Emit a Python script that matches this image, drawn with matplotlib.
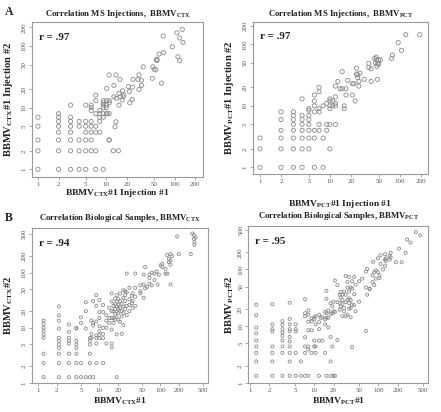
import matplotlib
matplotlib.use("Agg")
import matplotlib.pyplot as plt
from matplotlib.ticker import FixedLocator, NullLocator, FixedFormatter

plt.rcParams['font.family'] = ['Liberation Serif', 'DejaVu Serif']
plt.rcParams['mathtext.fontset'] = 'custom'
plt.rcParams['mathtext.rm'] = 'Liberation Serif:bold'
plt.rcParams['mathtext.bf'] = 'Liberation Serif:bold'
plt.rcParams['mathtext.it'] = 'Liberation Serif:bold'

# ---------------- data ----------------
# Panel A left: MS injections, CTX
a1_x = [1,1,1,1,1,
        2,2,2,2,2,2,2,2,
        3,3,3,3,3,3,3,3,
        4,4,4,4,4,
        5,5,5,5,5,5,5,
        6,6,6,6,6,6,6,6,
        7,7,7,7,7,7,7,
        8,8,8,8,8,
        9,9,9,9,9,9,9,
        10,10,10,10,
        11,11,11,11,11,
        10.1,13.8,15.8,12.9,12.9,14,15.3,15.3,16,17.3,17.6,18,17,21,21.6,22,24,23.9,24.6,
        29,30,30,32.6,32.6,34.6,47,48,50,52.7,54,55,55,59,64,69,68,92,108,118,129,132,111,118,
        13.8,13.4,12.6,15,11,10.3]
a1_y = [7,5,3,2,1,
        8,7,6,5,4,3,2,1,
        11,7,6,5,4,3,2,1,
        6,5,3,2,1,
        11,6,5,4,3,2,1,
        11,10,9,6,5,4,3,2,
        16,13,8,5,4,2,1,
        9,8,7,6,4,
        13,12,11,10,8,7,1,
        13,11,10,8,
        34,13,12,8,3,
        20.6,34,28.8,23,15,14.2,17,11,15,18.8,15,16,13.3,22,18.2,12,21.5,13.6,28.8,
        28.8,34,19.8,28,23,46,30,46,42,41,60,61,58,74,25,78,145,97,164,135,186,114,67,58,
        5.9,4.9,2,2,3,8]

# Panel A right: MS injections, PCT
a2_x = [1,1,1,
        2,2,2,2,2,2,
        3,3,3,3,3,3,3,3,
        4,4,4,4,4,4,4,4,
        5,5,5,5,5,5,5,5,
        6,6,6,6,6,6,6,
        7,7,7,7,7,7,
        8,8,8,
        9,9,9,
        10,10,10,10,10,10,
        11,11,
        12,12,12,12,12,
        13,14,15,17,15,16,16,17,18,21,21,22,23,24,24,25,25,26,26,27,31,36,36,39,39,
        44,45,46,47,47,48,48,50,50,53,76,79,95,106,122,193]
a2_y = [3,2,1,
        8,6,4,3,2,1,
        8,7,6,5,4,3,2,1,
        13,7,6,5,4,3,2,1,
        9,8.5,7,6,5,4,3,2,
        15,12,10,8,4,3,1,
        20,17,9,8,5,4,
        10,3,1,
        11,5,4,
        13,12,10,9,5,2,
        12,10,
        21,14,11,10,5,
        25,19,19,19,36,10,9,15,26,23,15,23,12,41,33,32,29,25,21,34,27,49,42,40,25,
        59,50,62,56,44,27,48,48,56,56,59,67,107,80,144,144]

# Panel B left: biological samples, CTX
b1_x = [1.22]*9 + [2.17]*11 + [3.17]*8 + [4.2]*8 + [5]*4 + [6]*4 + [7]*6 + [7.4]*3 + [7.9]*4 + \
       [8.9]*7 + [10]*7 + [11.5]*6 + [13]*4 + [14.5]*3 + [15.9]*7 + [17]*4 + [18]*5 + [19.2]*7 + \
       [20.4]*5 + [21.8]*4 + [23.2]*4 + [24.7]*5 + [26.4]*4 + [28]*4 + [31]*4 + [34]*2 + [35]*3 + \
       [38.6]*4 + [47]*3 + [53]*3 + [56]*2 + [60] + [66]*3 + [72]*2 + [80]*2 + [86] + [90] + [94] + \
       [100] + [107]*2 + [121]*2 + [129]*2 + [137]*2 + [146]*4 + [155] + [188] + [200] + [313] + \
       [332] + [354]*2 + [376] + [360]*2
b1_y = [13.5,11.8,10,8.9,7.6,6.6,3.4,2.3,1.28,
        24.4,16.8,13.5,9.7,6.6,5.8,5,4.3,3.4,2.3,1.28,
        11.5,8.5,6.6,5.8,5.2,3.4,2.3,1.28,
        10,9.7,5.8,5,4.3,3.4,2.3,1.28,
        15.5,12.3,1.28,2.3,
        29,20,9.7,1.28,
        6.5,5.8,5,3.4,2.3,1.28,
        13.5,7.8,6.6,
        30.6,12.3,11,1.28,
        39,25,13,7.3,6.5,5.2,2.3,
        32,19.3,15,10.7,8.7,7.4,6.5,
        26,19.3,10,7.8,6.5,2.3,
        17,13.5,10,5.2,
        23,15,12.3,
        42,30,20,15,9.3,5.2,4.4,
        25,19.8,15,12.3,
        34,27,22,17.8,14.1,
        39,30,24.4,19.8,15.5,7.6,1.28,
        33,26,22,18.5,14,
        42,30.6,22.7,12.8,
        27,20,16,7.8,
        48,35,24.4,18.5,11.2,
        46,39,30.6,22,
        96,44,25,17,
        53,33,26,20,
        38,28,
        42,30.6,23,
        96,53,36.6,25,
        59,46,42,
        61,92,35,
        126,52,
        55,
        63,80,92,
        59,100,
        96,73,
        105,
        61,
        92,
        135,
        144,126,
        117,96,
        96,209,
        155,178,
        217,61,166,139,
        198,
        451,
        217,
        217,
        511,
        478,407,
        432,
        354,319]

# Panel B right: biological samples, PCT
b2_x = [1.25]*9 + [2.23]*8 + [3.2]*9 + [4.15]*11 + [5.15]*5 + [6.2]*2 + [7.2]*7 + [8.1]*7 + \
       [9.1]*4 + [10]*4 + [10.5]*4 + [11.9]*5 + [12.6] + [13.4]*2 + [14.8]*4 + [15.5]*5 + [16.6]*3 + \
       [18]*5 + [19.2]*3 + [20]*3 + [21]*3 + [23]*3 + [25]*3 + [25.8]*3 + [27.5]*4 + [29.2]*3 + \
       [31]*4 + [33]*4 + [35]*5 + [37]*4 + [39]*4 + [42]*3 + [44]*2 + [50]*2 + [56] + [64]*3 + \
       [67]*2 + [73]*2 + [81]*2 + [83] + [86]*2 + [91]*2 + [98]*2 + [104]*2 + [108]*2 + [118] + \
       [127]*3 + [130]*2 + [150]*2 + [155]*2 + [187] + [210] + [230] + [265] + [280] + [316] + [384] + [450]
b2_y = [24,15.7,9.5,7.5,5.6,4.4,3.4,2.4,1.34,
        24.5,10.8,8.9,8.1,4.4,3.4,2.4,1.34,
        12.3,10.6,8.9,7.8,6.8,5.6,4.4,3.4,1.34,
        26,13.5,10.8,8.9,8.1,6.5,5.4,4.4,3.4,2.4,1.34,
        10.8,8.9,8.1,1.34,3.4,
        2.4,1.34,
        30,17,15,6.4,4.4,3.4,1.34,
        18.9,16,12,8.5,4.4,3.9,1.34,
        13.7,12.3,8.5,3.4,
        13.2,14.4,5.6,4.4,
        15,10.8,4.4,3.4,
        16,11.8,8.9,5.6,1.34,
        14.1,
        14.4,5.6,
        17.9,13.2,10.8,3.4,
        42,30.5,17,14.1,1.34,
        18.9,14.1,9.5,
        25.6,16.6,6.5,2.4,1.34,
        22.4,17,4.4,
        27,18.4,1.34,
        64,17.9,1.34,
        53,26.6,5.7,
        36,25.6,19.6,
        40,32,22.4,
        36,29,24.5,15,
        41,21,18.4,
        77,36,26.6,15,
        60,48,29,16,
        74,41,31,25.6,20.4,
        48,29,21,14.4,
        62,46,24,4.3,
        74,36.6,23.5,
        54,18.4,
        62,27,
        69,
        92,48,8.3,
        102,36,
        46,45,
        60,79,
        137,
        90,53,
        96,69,
        157,90,
        79,71,
        125,178,
        100,
        186,117,149,
        157,142,
        174,149,
        197,164,
        134,
        233,
        134,
        197,
        338,
        297,
        454,
        398]

a_ticks = [1, 2, 5, 10, 20, 50, 100, 200]
b_ticks = [1, 2, 5, 10, 20, 50, 100, 200, 500]

GRAY = '#9a9a9a'
TXT = '#222222'
W, H = 441, 412

fig = plt.figure(figsize=(4.41, 4.12), dpi=100)

# px boxes: (left, top, right, bottom), label centers (xlabel y px, ylabel x px), title y px
panels = [
    dict(box=(32, 21.7, 203, 176.7), xl_y=193, yl_x=9, t_y=14,
         x=a1_x, y=a1_y, ticks=a_ticks,
         xlim=(0.818, 259), ylim=(0.76, 248), s=9, r='r = .97',
         title=r'Correlation MS Injections,  BBMV$_{\mathbf{CTX}}$',
         xlabel=r'BBMV$_{\mathbf{CTX}}$#1 Injection #1',
         ylabel=r'BBMV$_{\mathbf{CTX}}$#1 Injection #2', letter='A', letter_y=12),
    dict(box=(252.7, 21.7, 428, 174), xl_y=204, yl_x=230, t_y=14,
         x=a2_x, y=a2_y, ticks=a_ticks,
         xlim=(0.785, 254), ylim=(0.78, 234), s=9, r='r = .97',
         title=r'Correlation MS Injections,  BBMV$_{\mathbf{PCT}}$',
         xlabel=r'BBMV$_{\mathbf{PCT}}$#1 Injection #1',
         ylabel=r'BBMV$_{\mathbf{PCT}}$#1 Injection #2', letter=None),
    dict(box=(31.7, 227.7, 208, 383.3), xl_y=401, yl_x=9, t_y=218,
         x=b1_x, y=b1_y, ticks=b_ticks,
         xlim=(0.78, 600), ylim=(0.99, 650), s=5, r='r = .94',
         title=r'Correlation Biological Samples, BBMV$_{\mathbf{CTX}}$',
         xlabel=r'BBMV$_{\mathbf{CTX}}$#1',
         ylabel=r'BBMV$_{\mathbf{CTX}}$#2', letter='B', letter_y=218),
    dict(box=(248.3, 225.7, 428, 383.3), xl_y=401, yl_x=230, t_y=215.7,
         x=b2_x, y=b2_y, ticks=b_ticks,
         xlim=(0.94, 593), ylim=(0.99, 590), s=5, r='r = .95',
         title=r'Correlation Biological Samples, BBMV$_{\mathbf{PCT}}$',
         xlabel=r'BBMV$_{\mathbf{PCT}}$#1',
         ylabel=r'BBMV$_{\mathbf{PCT}}$#2', letter=None),
]

for p in panels:
    l, t, r, b = p['box']
    ax = fig.add_axes([l / W, 1 - b / H, (r - l) / W, (b - t) / H])
    ax.scatter(p['x'], p['y'], s=p['s'], facecolors='none', edgecolors='#8a8a8a',
               linewidths=0.6)
    ax.set_xscale('log')
    ax.set_yscale('log')
    ax.set_xlim(*p['xlim'])
    ax.set_ylim(*p['ylim'])
    ax.xaxis.set_major_locator(FixedLocator(p['ticks']))
    ax.yaxis.set_major_locator(FixedLocator(p['ticks']))
    ax.xaxis.set_major_formatter(FixedFormatter([str(v) for v in p['ticks']]))
    ax.yaxis.set_major_formatter(FixedFormatter([str(v) for v in p['ticks']]))
    ax.xaxis.set_minor_locator(NullLocator())
    ax.yaxis.set_minor_locator(NullLocator())
    for sp in ax.spines.values():
        sp.set_color(GRAY)
        sp.set_linewidth(0.8)
    ax.tick_params(axis='both', which='major', length=2.5, width=0.6, color=GRAY,
                   labelsize=5, labelcolor='#555555', pad=1.2)
    for lab in ax.get_yticklabels():
        lab.set_rotation(90)
        lab.set_va('center')
    fig.text((l + r) / 2 / W, 1 - p['t_y'] / H, p['title'], fontsize=6.3,
             fontweight='bold', color=TXT, ha='center', va='center')
    ax.set_xlabel(p['xlabel'], fontsize=6.8, fontweight='bold', color=TXT)
    ax.set_ylabel(p['ylabel'], fontsize=7.6, fontweight='bold', color=TXT)
    ax.xaxis.set_label_coords(0.5, -(p['xl_y'] - b) / (b - t))
    ax.xaxis.label.set_va('center')
    ax.yaxis.set_label_coords(-(l - p['yl_x']) / (r - l), 0.5)
    ax.yaxis.label.set_va('center')
    ax.text(0.04, 0.9, p['r'], transform=ax.transAxes, fontsize=8,
            fontweight='bold', color=TXT, va='center', ha='left')
    if p['letter']:
        fig.text(5 / W, 1 - p['letter_y'] / H, p['letter'],
                 fontsize=8.5, fontweight='bold', color=TXT, va='center')

fig.savefig('out.png', dpi=100)
